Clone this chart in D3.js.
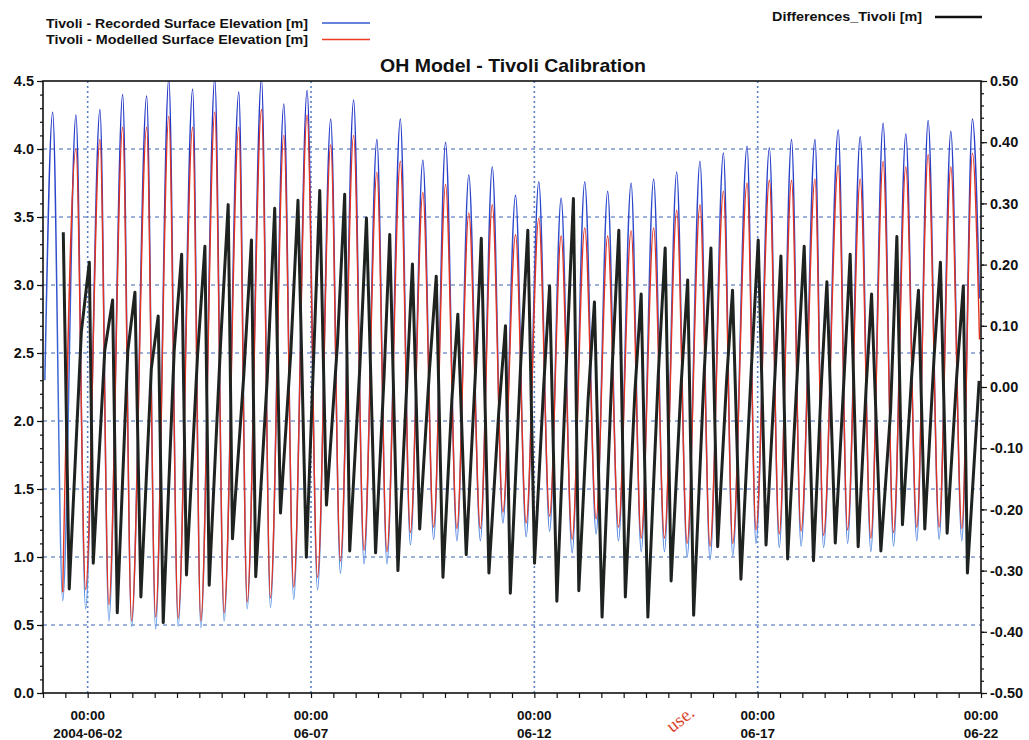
<!DOCTYPE html>
<html>
<head>
<meta charset="utf-8">
<script src="https://cdn.jsdelivr.net/npm/d3@7"></script>
<style>
  body { margin: 0; background: #fff; }
  svg { display: block; }
  text { font-family: "Liberation Sans", Arial, sans-serif; }
</style>
</head>
<body>
<svg id="chart" width="1029" height="740"></svg>
<script>
// ---- Data: Tivoli water levels, June 2004 (hours after 2004-06-01 00:00 UTC) ----
const highHours = [5.2, 17.7, 30.6, 42.8, 55.7, 67.6, 80.4, 92.3, 105.2, 117.4, 129.4, 141.9, 154.6, 166.9,
  179.4, 192.0, 204.1, 216.3, 228.8, 241.4, 253.9, 266.4, 278.4, 291.1, 303.4, 316.0, 328.1, 340.5, 353.0,
  365.6, 378.3, 390.3, 402.2, 414.8, 427.3, 439.1, 451.4, 463.6, 475.6, 487.8, 499.4];
const recordedHigh = [4.27, 4.25, 4.29, 4.40, 4.39, 4.52, 4.44, 4.52, 4.42, 4.52, 4.33, 4.43, 4.22, 4.36,
  4.07, 4.22, 3.92, 4.05, 3.81, 3.87, 3.66, 3.76, 3.64, 3.76, 3.69, 3.75, 3.78, 3.83, 3.91,
  3.97, 4.02, 4.01, 4.07, 4.07, 4.14, 4.09, 4.19, 4.11, 4.21, 4.13, 4.22];
const modelledHigh = [null, 4.00, 4.07, 4.16, 4.16, 4.24, 4.16, 4.27, 4.16, 4.29, 4.10, 4.25, 4.03, 4.10,
  3.83, 3.91, 3.68, 3.74, 3.53, 3.59, 3.37, 3.49, 3.36, 3.42, 3.36, 3.40, 3.42, 3.55, 3.59,
  3.69, 3.75, 3.77, 3.77, 3.78, 3.88, 3.78, 3.91, 3.87, 3.96, 3.87, 3.97];

const lowHours = [10.6, 22.9, 35.4, 47.6, 60.5, 72.6, 84.8, 97.3, 109.7, 122.2, 134.7, 147.5, 159.8, 172.5,
  184.8, 197.4, 209.9, 222.4, 235.0, 247.1, 259.6, 272.2, 284.3, 297.2, 309.2, 321.4, 333.9, 346.1, 358.4,
  370.6, 383.1, 395.6, 407.3, 419.4, 432.3, 444.8, 457.0, 469.5, 481.5, 493.7];
const recordedLow = [0.68, 0.62, 0.53, 0.49, 0.47, 0.49, 0.48, 0.53, 0.62, 0.63, 0.69, 0.76, 0.88, 0.95,
  0.95, 1.09, 1.13, 1.12, 1.12, 1.25, 1.15, 1.19, 1.03, 1.17, 1.12, 1.04, 1.04, 1.00, 0.98,
  1.01, 1.10, 1.07, 1.08, 1.07, 1.10, 1.04, 1.08, 1.12, 1.13, 1.12];
const modelledLow = [0.74, 0.76, 0.65, 0.53, 0.56, 0.55, 0.53, 0.59, 0.67, 0.70, 0.78, 0.85, 0.97, 1.05,
  1.04, 1.18, 1.22, 1.21, 1.21, 1.33, 1.25, 1.30, 1.13, 1.28, 1.22, 1.14, 1.14, 1.10, 1.08,
  1.10, 1.20, 1.17, 1.19, 1.16, 1.20, 1.14, 1.18, 1.22, 1.22, 1.21];

// first and last samples of each record
const edgeHours = [1.0, 503.2];
const recordedEdges = [2.3, 2.9];
const modelledEdges = [null, 2.6];

// Differences_Tivoli (right axis): peaks, troughs and the shoulder on each rising limb
const diffHighHours = [10.9, 24.9, 37.4, 49.4, 61.9, 74.5, 87.0, 99.5, 112.0, 124.5, 137.0, 148.7, 162.1,
  173.8, 186.3, 198.5, 211.3, 222.9, 235.5, 248.5, 260.5, 272.2, 285.0, 296.3, 309.4, 321.4, 334.3, 346.4,
  358.9, 370.5, 384.3, 396.5, 409.0, 421.2, 433.7, 445.2, 458.8, 470.4, 482.2, 494.5];
const diffHigh = [0.253, 0.204, 0.142, 0.155, 0.116, 0.217, 0.230, 0.298, 0.240, 0.292, 0.305, 0.321, 0.315,
  0.276, 0.249, 0.201, 0.181, 0.119, 0.243, 0.100, 0.256, 0.165, 0.308, 0.139, 0.256, 0.152, 0.227, 0.175,
  0.227, 0.158, 0.240, 0.214, 0.230, 0.172, 0.217, 0.152, 0.246, 0.158, 0.204, 0.165];
const diffLowHours = [14.1, 27.0, 39.9, 52.6, 64.6, 77.1, 89.3, 101.8, 114.3, 127.6, 141.5, 152.3, 164.8,
  178.7, 190.7, 202.4, 214.9, 227.4, 239.6, 251.1, 264.1, 276.1, 287.9, 300.4, 312.9, 325.0, 337.5, 349.6,
  362.5, 375.0, 388.5, 400.1, 414.0, 425.7, 438.0, 450.2, 461.8, 473.8, 485.8, 496.7];
const diffLow = [-0.330, -0.288, -0.369, -0.343, -0.385, -0.307, -0.324, -0.248, -0.310, -0.206, -0.278,
  -0.193, -0.268, -0.271, -0.300, -0.232, -0.311, -0.274, -0.304, -0.337, -0.288, -0.350, -0.333, -0.376,
  -0.343, -0.376, -0.317, -0.373, -0.261, -0.314, -0.258, -0.281, -0.284, -0.255, -0.261, -0.268, -0.225,
  -0.232, -0.239, -0.304];
const diffShoulderHours = [20.6, 33.2, 45.6, 58.2, 70.5, 83.0, 95.4, 107.9, 120.4, 133.2, 145.8, 158.2,
  170.2, 183.3, 195.4, 207.7, 219.7, 232.3, 244.9, 256.7, 269.0, 281.4, 292.9, 305.8, 318.0, 330.6, 342.8,
  355.2, 367.3, 380.6, 393.3, 405.4, 418.3, 430.5, 442.3, 455.4, 467.0, 478.8, 491.0];
const diffShoulder = [0.09, 0.06, 0.06, 0.03, 0.06, 0.05, 0.07, 0.02, 0.01, 0.06, 0.08, 0.07, 0.03, 0.02,
  0.00, 0.03, -0.02, 0.02, -0.04, 0.04, 0.00, 0.05, -0.02, 0.03, -0.01, 0.02, 0.00, 0.02, 0.01, 0.03, 0.02,
  0.03, 0.01, 0.02, 0.00, -0.04, 0.03, 0.05, 0.02];
const diffEndHour = 503.0;
const diffEnd = 0.01;

// Axis ticks and labels
const leftTicks = [0.0, 0.5, 1.0, 1.5, 2.0, 2.5, 3.0, 3.5, 4.0, 4.5];
const rightTicks = [-0.5, -0.4, -0.3, -0.2, -0.1, 0.0, 0.1, 0.2, 0.3, 0.4, 0.5];
const gridLevels = [0.5, 1.0, 1.5, 2.0, 2.5, 3.0, 3.5, 4.0];
const majorDates = ["2004-06-02", "2004-06-07", "2004-06-12", "2004-06-17", "2004-06-22"];
const majorDateLabels = ["2004-06-02", "06-07", "06-12", "06-17", "06-22"];
const majorTimeLabel = "00:00";

// ---- Layout ----
const svg = d3.select("#chart");
const plot = { left: 43, right: 981, top: 81, bottom: 693 };
const t0 = Date.UTC(2004, 5, 1, 0, 0);
const hourToDate = h => new Date(t0 + h * 3600e3);
const parseDay = d3.utcParse("%Y-%m-%d");

const x = d3.scaleUtc()
  .domain([new Date(t0), new Date(Date.UTC(2004, 5, 22, 0, 0))])
  .range([plot.left, plot.right]);
const yL = d3.scaleLinear().domain([0, 4.5]).range([plot.bottom, plot.top]);
const yR = d3.scaleLinear().domain([-0.5, 0.5]).range([plot.bottom, plot.top]);

// ---- Build each series from its listed samples, in time order ----
function series(...groups) {
  const pts = [];
  groups.forEach(([hours, vals]) => hours.forEach((h, i) => {
    if (vals[i] != null) pts.push([h, vals[i]]);
  }));
  return pts.sort((a, b) => a[0] - b[0]);
}
const recorded = series([highHours, recordedHigh], [lowHours, recordedLow], [edgeHours, recordedEdges]);
const modelled = series([highHours, modelledHigh], [lowHours, modelledLow], [edgeHours, modelledEdges]);
const differences = series([diffHighHours, diffHigh], [diffLowHours, diffLow],
  [diffShoulderHours, diffShoulder], [[diffEndHour], [diffEnd]]);

// ---- Defs ----
const defs = svg.append("defs");
defs.append("clipPath").attr("id", "plotClip")
  .append("rect")
  .attr("x", plot.left).attr("y", plot.top)
  .attr("width", plot.right - plot.left).attr("height", plot.bottom - plot.top);
const grad = defs.append("linearGradient").attr("id", "recGrad")
  .attr("gradientUnits", "userSpaceOnUse")
  .attr("x1", 0).attr("y1", plot.top).attr("x2", 0).attr("y2", plot.bottom);
grad.append("stop").attr("offset", "0%").attr("stop-color", "#1f2fc6");
grad.append("stop").attr("offset", "45%").attr("stop-color", "#3b63d2");
grad.append("stop").attr("offset", "100%").attr("stop-color", "#67a6ea");

// ---- Grid ----
const grid = svg.append("g");
grid.selectAll("line.h").data(gridLevels).join("line")
  .attr("x1", plot.left).attr("x2", plot.right)
  .attr("y1", d => yL(d)).attr("y2", d => yL(d))
  .attr("stroke", "#3d63b5").attr("stroke-width", 1).attr("stroke-dasharray", "4,4");
grid.selectAll("line.v").data(majorDates.slice(0, 4)).join("line")
  .attr("x1", d => x(parseDay(d))).attr("x2", d => x(parseDay(d)))
  .attr("y1", plot.top).attr("y2", plot.bottom)
  .attr("stroke", "#5b80c8").attr("stroke-width", 1.6).attr("stroke-dasharray", "2,3");

// ---- Series ----
const lineL = d3.line().x(d => x(hourToDate(d[0]))).y(d => yL(d[1])).curve(d3.curveMonotoneX);
const lineR = d3.line().x(d => x(hourToDate(d[0]))).y(d => yR(d[1])).curve(d3.curveLinear);
const marks = svg.append("g").attr("clip-path", "url(#plotClip)");
marks.append("path").datum(recorded).attr("d", lineL)
  .attr("fill", "none").attr("stroke", "url(#recGrad)").attr("stroke-width", 1.5);
marks.append("path").datum(modelled).attr("d", lineL)
  .attr("fill", "none").attr("stroke", "#e3321f").attr("stroke-width", 1.4);
marks.append("path").datum(differences).attr("d", lineR)
  .attr("fill", "none").attr("stroke", "#1e2320").attr("stroke-width", 3)
  .attr("stroke-linejoin", "round");

// ---- Frame ----
svg.append("rect")
  .attr("x", plot.left).attr("y", plot.top)
  .attr("width", plot.right - plot.left).attr("height", plot.bottom - plot.top)
  .attr("fill", "none").attr("stroke", "#111").attr("stroke-width", 1.6);

// ---- Axes ----
function styleAxis(g) {
  g.select(".domain").remove();
  g.selectAll("line").attr("stroke", "#111").attr("stroke-width", 1.2);
  g.selectAll("text").attr("fill", "#111").attr("font-weight", "bold")
    .style("font-family", "'Liberation Sans', Arial, sans-serif");
}
// left
svg.append("g").attr("transform", `translate(${plot.left},0)`)
  .call(d3.axisLeft(yL).tickValues(d3.range(0, 46).map(i => i / 10)).tickSize(3).tickFormat(""))
  .call(styleAxis);
svg.append("g").attr("transform", `translate(${plot.left},0)`)
  .call(d3.axisLeft(yL).tickValues(leftTicks).tickSize(6).tickPadding(3).tickFormat(d => d.toFixed(1)))
  .call(styleAxis)
  .call(g => g.selectAll("text").attr("font-size", 14.5));
// right
svg.append("g").attr("transform", `translate(${plot.right},0)`)
  .call(d3.axisRight(yR).tickValues(d3.range(-25, 26).map(i => i / 50)).tickSize(3).tickFormat(""))
  .call(styleAxis);
svg.append("g").attr("transform", `translate(${plot.right},0)`)
  .call(d3.axisRight(yR).tickValues(rightTicks).tickSize(6).tickPadding(3).tickFormat(d => d.toFixed(2)))
  .call(styleAxis)
  .call(g => g.selectAll("text").attr("font-size", 14.5));
// bottom
svg.append("g").attr("transform", `translate(0,${plot.bottom})`)
  .call(d3.axisBottom(x).ticks(d3.utcHour.every(12)).tickSize(5).tickFormat(""))
  .call(styleAxis);
const bottomLabels = svg.append("g");
majorDates.forEach((d, i) => {
  const t = bottomLabels.append("text")
    .attr("x", x(parseDay(d))).attr("text-anchor", "middle")
    .attr("font-size", 13.5).attr("font-weight", "bold").attr("fill", "#111");
  t.append("tspan").attr("x", x(parseDay(d))).attr("y", 720).text(majorTimeLabel);
  t.append("tspan").attr("x", x(parseDay(d))).attr("y", 738).text(majorDateLabels[i]);
});

// ---- Title ----
svg.append("text")
  .attr("x", 513).attr("y", 72).attr("text-anchor", "middle")
  .attr("font-size", 18.5).attr("font-weight", "bold").attr("fill", "#111")
  .attr("textLength", 266).attr("lengthAdjust", "spacingAndGlyphs")
  .text("OH Model - Tivoli Calibration");

// ---- Legends ----
const legend = svg.append("g").attr("font-weight", "bold").attr("fill", "#111");
legend.append("text").attr("x", 46).attr("y", 27.5).attr("font-size", 12)
  .attr("textLength", 262).attr("lengthAdjust", "spacingAndGlyphs")
  .text("Tivoli - Recorded Surface Elevation [m]");
legend.append("line").attr("x1", 322).attr("x2", 370).attr("y1", 23).attr("y2", 23)
  .attr("stroke", "#3558d0").attr("stroke-width", 1.4);
legend.append("text").attr("x", 46).attr("y", 44).attr("font-size", 12)
  .attr("textLength", 262).attr("lengthAdjust", "spacingAndGlyphs")
  .text("Tivoli - Modelled Surface Elevation  [m]");
legend.append("line").attr("x1", 322).attr("x2", 370).attr("y1", 39.5).attr("y2", 39.5)
  .attr("stroke", "#ee3a22").attr("stroke-width", 1.6);
legend.append("text").attr("x", 772).attr("y", 21).attr("font-size", 12)
  .attr("textLength", 150).attr("lengthAdjust", "spacingAndGlyphs")
  .text("Differences_Tivoli [m]");
legend.append("line").attr("x1", 935).attr("x2", 982).attr("y1", 17).attr("y2", 17)
  .attr("stroke", "#111").attr("stroke-width", 2.4);

// ---- Stamp at the foot of the page ----
svg.append("text")
  .attr("transform", "translate(684,724) rotate(-38)")
  .attr("text-anchor", "middle")
  .style("font-family", "'Liberation Serif', 'Times New Roman', serif")
  .attr("font-size", 19).attr("fill", "#d9452c")
  .text("use.");
</script>
</body>
</html>
